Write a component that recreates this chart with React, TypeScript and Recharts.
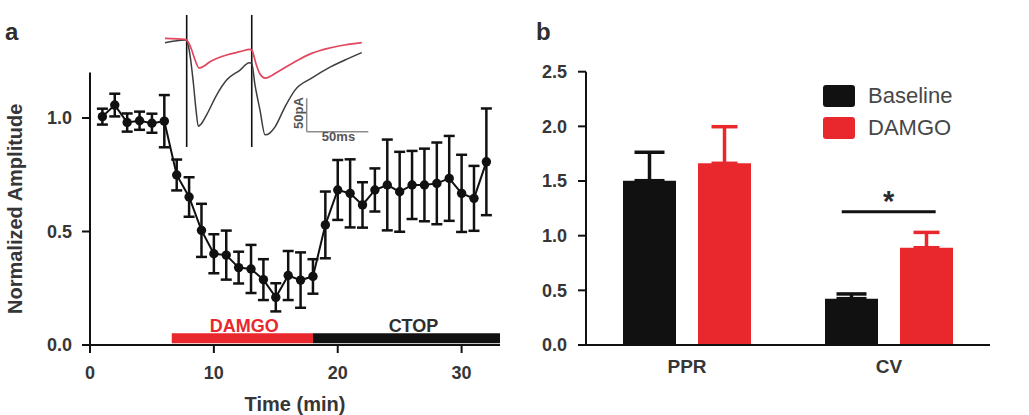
import React from 'react';
import {
  ComposedChart,
  LineChart,
  BarChart,
  Line,
  Bar,
  XAxis,
  YAxis,
  ErrorBar,
  ReferenceArea,
  ReferenceLine,
  Legend,
  Label,
} from 'recharts';

const FONT = '"Liberation Sans", Arial, Helvetica, sans-serif';
const INK = '#111111';
const TEXT = '#363636';
const RED = '#E8282D';
const TRACE_RED = '#E2475E';
const TRACE_GRAY = '#3d3d3d';
const SCALE_GRAY = '#8c8c8c';

// ---- Panel a: normalized EPSC amplitude over time ----
const minutes = [
  1, 2, 3, 4, 5, 6, 7, 8, 9, 10, 11, 12, 13, 14, 15, 16,
  17, 18, 19, 20, 21, 22, 23, 24, 25, 26, 27, 28, 29, 30, 31, 32,
];
const amplitude = [
  1.006, 1.057, 0.98, 0.988, 0.977, 0.986, 0.749, 0.652, 0.505, 0.402, 0.396, 0.341, 0.335, 0.288, 0.21, 0.306,
  0.286, 0.302, 0.529, 0.683, 0.668, 0.617, 0.683, 0.705, 0.675, 0.705, 0.705, 0.712, 0.734, 0.668, 0.646, 0.807,
];
const amplitudeSem = [
  0.035, 0.05, 0.04, 0.04, 0.042, 0.115, 0.068, 0.087, 0.117, 0.086, 0.108, 0.07, 0.106, 0.09, 0.062, 0.108,
  0.122, 0.076, 0.147, 0.132, 0.15, 0.1, 0.095, 0.2, 0.176, 0.15, 0.16, 0.18, 0.187, 0.17, 0.143, 0.235,
];
const timeTicks = [0, 10, 20, 30];
const amplitudeTicks = [0, 0.5, 1.0];
const timeDomain = [0, 33.1];

// drug application periods (min) and the height of the application bars
const damgoPeriod = [6.6, 18];
const ctopPeriod = [18, 33.1];
const applicationBar = [0.008, 0.052];

// ---- Inset: example EPSC pairs (ms, pA) ----
const baselineTraceMs = [
  0, 16.2, 17.6, 20.3, 23, 25.2, 27, 29.2, 33.8, 42, 50, 60.9, 68.4,
  70.4, 73, 77.1, 81.2, 85.2, 89.3, 97.4, 105.5, 119, 132.5, 146, 159.7,
];
const baselineTracePa = [
  -4, 0, -1, -22.5, -64, -105, -129, -126, -112, -82, -60, -45, -34,
  -35, -67, -105, -142, -139, -130, -100, -75, -57, -42, -30, -19,
];
const damgoTraceMs = [
  0, 16.2, 17.6, 21.7, 24.4, 27.8, 31.7, 36.5, 43, 50, 60.9, 69,
  70.4, 73.9, 77.1, 81.2, 92, 105.5, 119, 132.5, 146, 159.7,
];
const damgoTracePa = [
  2.5, 1, 0, -15, -30, -42, -39, -32.5, -27, -22.5, -17.5, -14,
  -15, -36, -51, -57, -47, -32.5, -20, -12.5, -7.5, -4,
];
const stimulusMs = [17.6, 70.4];
const traceMsDomain = [0, 165];
const tracePaDomain = [-160.2, 37.4];
const scaleBarOrigin = { ms: 115, pA: -137.3 };
const scaleBarMs = 50;
const scaleBarPa = 50;

// ---- Panel b: paired-pulse ratio and coefficient of variation ----
const measures = ['PPR', 'CV'];
const measureSlots = [0.5, 1.5];
const baselineMean = [1.503, 0.424];
const baselineSem = [0.26, 0.043];
const damgoMean = [1.662, 0.89];
const damgoSem = [0.335, 0.14];
const ratioTicks = [0, 0.5, 1.0, 1.5, 2.0, 2.5];
// significance bar over CV (on the 0..2 slot scale)
const significance = { from: 1.266, to: 1.731, level: 1.22 };

const timeCourse = minutes.map((m, i) => ({
  minute: m,
  amplitude: amplitude[i],
  sem: amplitudeSem[i],
}));
const baselineTrace = baselineTraceMs.map((t, i) => ({ t, pA: baselineTracePa[i] }));
const damgoTrace = damgoTraceMs.map((t, i) => ({ t, pA: damgoTracePa[i] }));
const ratioData = measures.map((m, i) => ({
  measure: m,
  slot: measureSlots[i],
  baseline: baselineMean[i],
  baselineErr: [0, baselineSem[i]],
  damgo: damgoMean[i],
  damgoErr: [0, damgoSem[i]],
}));

const tickStyle = { fill: TEXT, fontSize: 18, fontWeight: 700, fontFamily: FONT };
const axisStroke = { stroke: INK, strokeWidth: 2 };

const TimeAxisTitle = (props: any) => {
  const { viewBox } = props;
  return (
    <text
      x={viewBox.x + viewBox.width / 2}
      y={viewBox.y + 66}
      textAnchor="middle"
      fill={TEXT}
      fontSize={20}
      fontWeight={700}
      fontFamily={FONT}
    >
      Time (min)
    </text>
  );
};

const AmplitudeAxisTitle = (props: any) => {
  const { viewBox } = props;
  const cx = 15;
  const cy = viewBox.y + viewBox.height / 2;
  return (
    <text
      x={cx}
      y={cy}
      dy="0.36em"
      transform={`rotate(-90 ${cx} ${cy})`}
      textAnchor="middle"
      fill={TEXT}
      fontSize={20}
      fontWeight={700}
      fontFamily={FONT}
    >
      Normalized Amplitude
    </text>
  );
};

const drugLabel = (text: string, color: string, shift: number) => (props: any) => {
  const { viewBox } = props;
  return (
    <text
      x={viewBox.x + viewBox.width / 2 + shift}
      y={viewBox.y - 1.5}
      textAnchor="middle"
      fill={color}
      fontSize={18}
      fontWeight={700}
      fontFamily={FONT}
    >
      {text}
    </text>
  );
};

const PaLabel = (props: any) => {
  const { viewBox } = props;
  const cx = viewBox.x - 8.4;
  const cy = viewBox.y + viewBox.height / 2 - 2;
  return (
    <text
      x={cx}
      y={cy}
      dy="0.36em"
      transform={`rotate(-90 ${cx} ${cy})`}
      textAnchor="middle"
      fill="#555"
      fontSize={13}
      fontWeight={700}
      fontFamily={FONT}
    >
      50pA
    </text>
  );
};

const MsLabel = (props: any) => {
  const { viewBox } = props;
  return (
    <text
      x={viewBox.x + viewBox.width / 2 + 1}
      y={viewBox.y + 9.5}
      textAnchor="middle"
      fill="#555"
      fontSize={13}
      fontWeight={700}
      fontFamily={FONT}
    >
      50ms
    </text>
  );
};

const Asterisk = (props: any) => {
  const { viewBox } = props;
  return (
    <text
      x={viewBox.x + viewBox.width / 2}
      y={viewBox.y - 1}
      textAnchor="middle"
      fill="#2a2a2a"
      fontSize={29}
      fontWeight={700}
      fontFamily={FONT}
    >
      *
    </text>
  );
};

const RatioLegend = (props: any) => {
  const items = props.payload || [];
  return (
    <div style={{ fontFamily: FONT }}>
      {items.map((entry: any, i: number) => (
        <div
          key={entry.value}
          style={{ display: 'flex', alignItems: 'center', height: 22, marginBottom: i === 0 ? 9.7 : 0 }}
        >
          <span
            style={{
              display: 'inline-block',
              width: 32,
              height: 22,
              background: entry.color,
              borderRadius: 3,
            }}
          />
          <span style={{ marginLeft: 13, fontSize: 22, lineHeight: '22px', color: '#474747' }}>
            {entry.value}
          </span>
        </div>
      ))}
    </div>
  );
};

function TimeCoursePanel() {
  return (
    <ComposedChart
      width={520}
      height={415}
      data={timeCourse}
      margin={{ top: 72.6, right: 20, bottom: 30, left: 0 }}
    >
      <XAxis
        dataKey="minute"
        type="number"
        domain={timeDomain}
        ticks={timeTicks}
        axisLine={axisStroke}
        tickLine={axisStroke}
        tickSize={8}
        tickMargin={13}
        tick={tickStyle}
        height={40}
      >
        <Label content={TimeAxisTitle} />
      </XAxis>
      <YAxis
        type="number"
        domain={[0, 1.2]}
        ticks={amplitudeTicks}
        tickFormatter={(v: number) => v.toFixed(1)}
        axisLine={axisStroke}
        tickLine={axisStroke}
        tickSize={8}
        tickMargin={10}
        tick={tickStyle}
        width={90}
      >
        <Label content={AmplitudeAxisTitle} />
      </YAxis>
      <ReferenceArea
        x1={damgoPeriod[0]}
        x2={damgoPeriod[1]}
        y1={applicationBar[0]}
        y2={applicationBar[1]}
        fill={RED}
        fillOpacity={1}
        stroke="none"
        label={drugLabel('DAMGO', RED, 2)}
      />
      <ReferenceArea
        x1={ctopPeriod[0]}
        x2={ctopPeriod[1]}
        y1={applicationBar[0]}
        y2={applicationBar[1]}
        fill={INK}
        fillOpacity={1}
        stroke="none"
        label={drugLabel('CTOP', '#2e2e2e', 7)}
      />
      <Line
        dataKey="amplitude"
        type="linear"
        stroke={INK}
        strokeWidth={2}
        dot={{ r: 4.7, fill: INK, stroke: INK, strokeWidth: 0 }}
        isAnimationActive={false}
      >
        <ErrorBar dataKey="sem" direction="y" width={5.5} strokeWidth={2.5} stroke={INK} />
      </Line>
    </ComposedChart>
  );
}

function TraceInset() {
  return (
    <LineChart width={215} height={142} margin={{ top: 5, right: 6.7, bottom: 5, left: 5 }}>
      <XAxis type="number" dataKey="t" domain={traceMsDomain} hide />
      <YAxis type="number" domain={tracePaDomain} hide />
      {stimulusMs.map((ms) => (
        <ReferenceLine key={ms} x={ms} stroke={INK} strokeWidth={1.6} />
      ))}
      <Line
        data={baselineTrace}
        dataKey="pA"
        type="monotone"
        stroke={TRACE_GRAY}
        strokeWidth={1.5}
        dot={false}
        isAnimationActive={false}
      />
      <Line
        data={damgoTrace}
        dataKey="pA"
        type="monotone"
        stroke={TRACE_RED}
        strokeWidth={1.7}
        dot={false}
        isAnimationActive={false}
      />
      <ReferenceLine
        segment={[
          { x: scaleBarOrigin.ms, y: scaleBarOrigin.pA + scaleBarPa },
          { x: scaleBarOrigin.ms, y: scaleBarOrigin.pA },
        ]}
        stroke={SCALE_GRAY}
        strokeWidth={1.5}
        label={PaLabel}
      />
      <ReferenceLine
        segment={[
          { x: scaleBarOrigin.ms, y: scaleBarOrigin.pA },
          { x: scaleBarOrigin.ms + scaleBarMs, y: scaleBarOrigin.pA },
        ]}
        stroke={SCALE_GRAY}
        strokeWidth={1.5}
        label={MsLabel}
      />
    </LineChart>
  );
}

function RatioPanel() {
  return (
    <BarChart
      width={529}
      height={415}
      data={ratioData}
      barSize={53}
      barGap={22}
      margin={{ top: 71.7, right: 39, bottom: 30, left: 0 }}
    >
      <XAxis
        dataKey="slot"
        type="number"
        domain={[0, 2]}
        ticks={measureSlots}
        tickFormatter={(v: number) => measures[measureSlots.indexOf(v)]}
        axisLine={axisStroke}
        tickLine={false}
        tickSize={0}
        tickMargin={15}
        tick={{ ...tickStyle, fontSize: 19 }}
        height={40}
      />
      <YAxis
        type="number"
        domain={[0, 2.5]}
        ticks={ratioTicks}
        tickFormatter={(v: number) => v.toFixed(1)}
        axisLine={axisStroke}
        tickLine={axisStroke}
        tickSize={8}
        tickMargin={11}
        tick={tickStyle}
        width={86}
      />
      <Legend
        layout="vertical"
        align="center"
        verticalAlign="middle"
        wrapperStyle={{ left: 323, top: 85, width: 160 }}
        content={RatioLegend}
      />
      <Bar dataKey="baseline" name="Baseline" fill={INK} isAnimationActive={false}>
        <ErrorBar dataKey="baselineErr" direction="y" width={15} strokeWidth={3.5} stroke={INK} />
      </Bar>
      <Bar dataKey="damgo" name="DAMGO" fill={RED} isAnimationActive={false}>
        <ErrorBar dataKey="damgoErr" direction="y" width={13} strokeWidth={3.5} stroke={RED} />
      </Bar>
      <ReferenceLine
        segment={[
          { x: significance.from, y: significance.level },
          { x: significance.to, y: significance.level },
        ]}
        stroke={INK}
        strokeWidth={3}
        label={Asterisk}
      />
    </BarChart>
  );
}

export default function App() {
  return (
    <div
      style={{
        position: 'absolute',
        left: 0,
        top: 0,
        width: 1029,
        height: 415,
        overflow: 'hidden',
        background: '#ffffff',
        fontFamily: FONT,
      }}
    >
      <div style={{ position: 'absolute', left: 0, top: 0 }}>
        <TimeCoursePanel />
      </div>
      <div style={{ position: 'absolute', left: 160, top: 10 }}>
        <TraceInset />
      </div>
      <div style={{ position: 'absolute', left: 500, top: 0 }}>
        <RatioPanel />
      </div>
      <svg
        width={1029}
        height={60}
        style={{ position: 'absolute', left: 0, top: 0, pointerEvents: 'none' }}
      >
        <text x={5} y={40} fill="#2e2e2e" fontSize={24} fontWeight={700} fontFamily={FONT}>
          a
        </text>
        <text x={536} y={40} fill="#2e2e2e" fontSize={24} fontWeight={700} fontFamily={FONT}>
          b
        </text>
      </svg>
    </div>
  );
}
